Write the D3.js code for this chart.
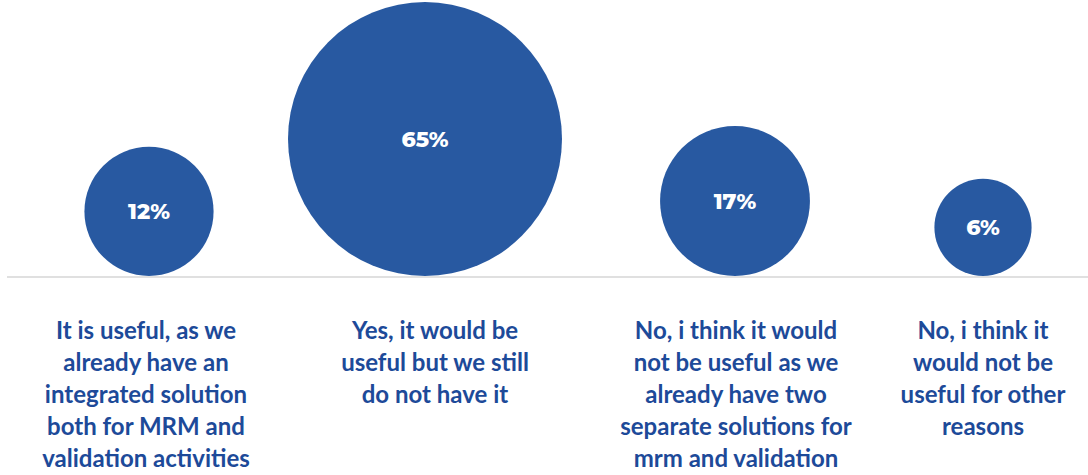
<!DOCTYPE html>
<html>
<head>
<meta charset="utf-8">
<script src="https://cdn.jsdelivr.net/npm/d3@7"></script>
<style>
  html, body { margin: 0; padding: 0; background: #ffffff; }
  svg { display: block; }
</style>
</head>
<body>
<svg id="chart" width="1088" height="475"></svg>
<script>
// Survey answers and their shares (%)
const categories = [
  "It is useful, as we|already have an|integrated solution|both for MRM and|validation activities",
  "Yes, it would be|useful but we still|do not have it",
  "No, i think it would|not be useful as we|already have two|separate solutions for|mrm and validation",
  "No, i think it|would not be|useful for other|reasons"
];
const shares = [12, 65, 17, 6];
const valueLabels = ["12%", "65%", "17%", "6%"];

// Layout
const W = 1088, H = 475;
const baselineY = 277;
const bubbleCenters = [149, 425, 735, 983];
const labelCenters = [146, 435, 736, 983];
const circleColor = "#2859a1";
const textColor = "#1d4a99";

const svg = d3.select("#chart");

const rows = categories.map((c, i) => ({ key: c, lines: c.split("|"), value: shares[i], label: valueLabels[i] }));

const x = d3.scaleOrdinal().domain(categories).range(bubbleCenters);
const xLabel = d3.scaleOrdinal().domain(categories).range(labelCenters);
const r = d3.scaleSqrt().domain([0, d3.max(shares)]).range([10, 137]);

// baseline rule
svg.append("line")
  .attr("x1", 7).attr("x2", W)
  .attr("y1", baselineY).attr("y2", baselineY)
  .attr("stroke", "#d6d6d6").attr("stroke-width", 1.5);

// bubbles resting on the baseline
const g = svg.selectAll("g.bubble").data(rows).join("g").attr("class", "bubble");

g.append("circle")
  .attr("cx", d => x(d.key))
  .attr("cy", d => baselineY - 1 - r(d.value))
  .attr("r", d => r(d.value))
  .attr("fill", circleColor);

g.append("text")
  .attr("x", d => x(d.key))
  .attr("y", d => baselineY - 1 - r(d.value))
  .attr("dy", "0.36em")
  .attr("text-anchor", "middle")
  .attr("fill", "#ffffff")
  .attr("font-family", "Montserrat, Lato, 'Open Sans', sans-serif")
  .attr("font-weight", 800)
  .attr("font-size", 22)
  .text(d => d.label);

// category labels under the baseline
const lbl = svg.selectAll("text.cat").data(rows).join("text")
  .attr("class", "cat")
  .attr("text-anchor", "middle")
  .attr("fill", textColor)
  .attr("font-family", "Lato, 'Open Sans', sans-serif")
  .attr("font-weight", 700)
  .attr("font-size", 24);

lbl.selectAll("tspan").data(d => d.lines.map(t => ({ t, k: d.key }))).join("tspan")
  .attr("x", d => xLabel(d.k))
  .attr("y", (d, i) => 339 + i * 32)
  .text(d => d.t);
</script>
</body>
</html>
